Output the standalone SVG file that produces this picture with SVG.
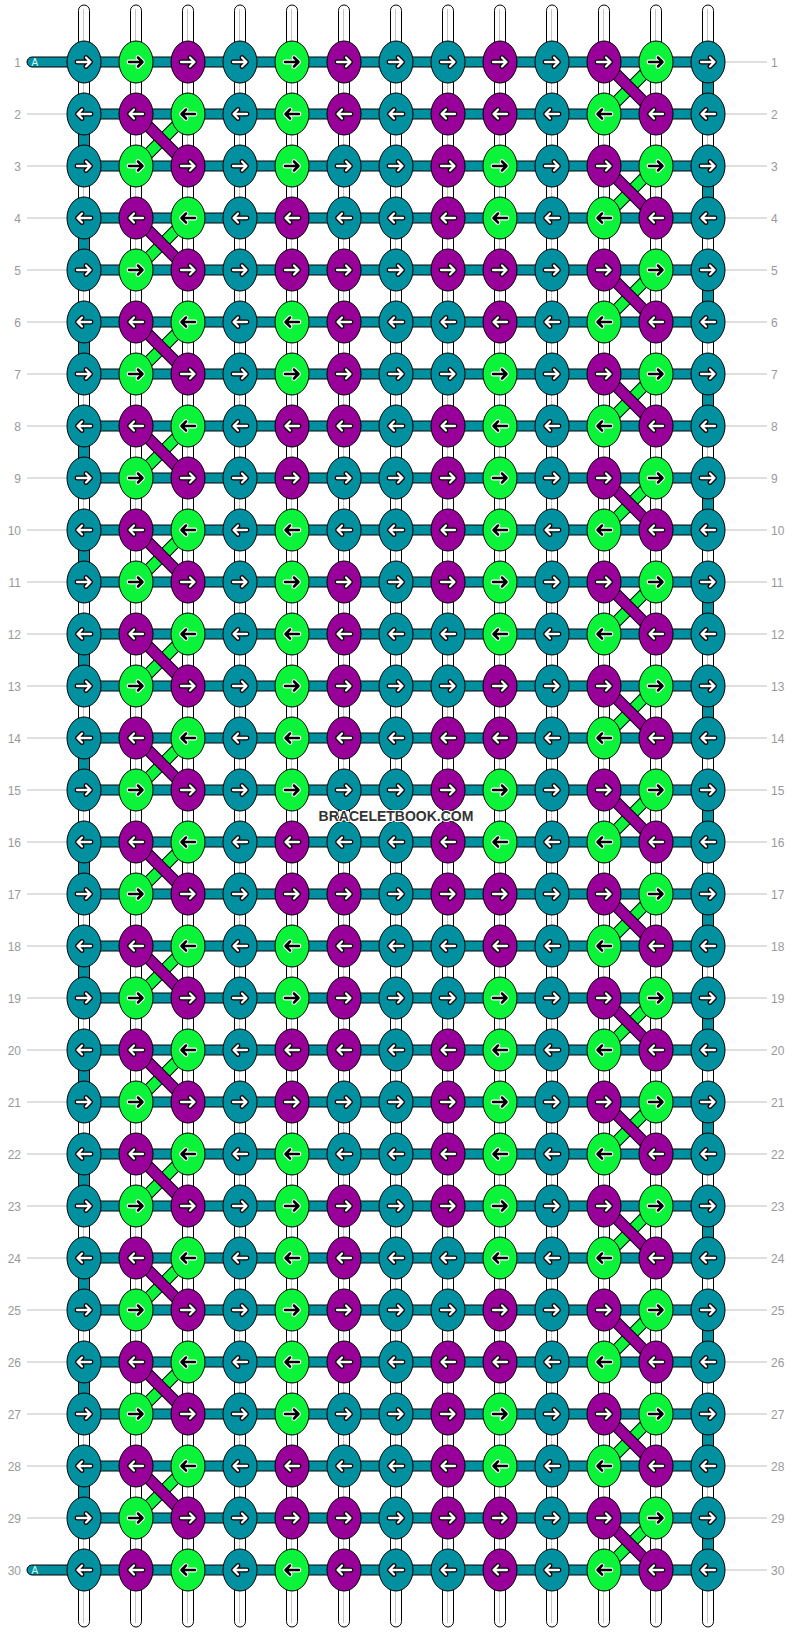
<svg xmlns="http://www.w3.org/2000/svg" xmlns:xlink="http://www.w3.org/1999/xlink" width="792" height="1632" viewBox="0 0 792 1632">
<style>
.kt{fill:#00909F;stroke:#000;stroke-width:1}
.km{fill:#990099;stroke:#000;stroke-width:1}
.kg{fill:#0BF43A;stroke:#000;stroke-width:1}
.ao{fill:none;stroke:#000;stroke-width:4.8;stroke-linecap:round;stroke-linejoin:round}
.ai{fill:none;stroke:#fff;stroke-width:2.3;stroke-linecap:round;stroke-linejoin:round}
.aow{fill:none;stroke:#fff;stroke-width:4.8;stroke-linecap:round;stroke-linejoin:round}
.aib{fill:none;stroke:#000;stroke-width:2.5;stroke-linecap:round;stroke-linejoin:round}
.s{fill:#fff;stroke:#000;stroke-width:1}
.sl{fill:none;stroke:#c4c4c4;stroke-width:1}
.te{fill:#00909F;stroke:#000;stroke-width:1}
.do{fill:none;stroke:#000;stroke-width:12}
.dg{fill:none;stroke:#0BF43A;stroke-width:10}
.dm{fill:none;stroke:#990099;stroke-width:10}
.gl{fill:none;stroke:#c0c0c0;stroke-width:1}
.lb{font-family:"Liberation Sans",Arial,sans-serif;font-size:12px;fill:#999}
.wm{font-family:"Liberation Sans",Arial,sans-serif;font-size:14px;font-weight:bold;fill:#333;stroke:#fff;stroke-width:2;paint-order:stroke;text-anchor:middle}
.al{font-family:"Liberation Sans",Arial,sans-serif;font-size:10px;fill:#dff}
</style>
<defs>
<path id="ar" d="M-7 0H6M2-4.5L6.5 0 2 4.5"/>
<path id="al" d="M7 0H-6M-2-4.5L-6.5 0-2 4.5"/>
<g id="tR"><ellipse class="kt" rx="17" ry="21"/><use href="#ar" class="ao"/><use href="#ar" class="ai"/></g>
<g id="mR"><ellipse class="km" rx="17" ry="21"/><use href="#ar" class="ao"/><use href="#ar" class="ai"/></g>
<g id="gR"><ellipse class="kg" rx="17" ry="21"/><use href="#ar" class="aow"/><use href="#ar" class="aib"/></g>
<g id="tL"><ellipse class="kt" rx="17" ry="21"/><use href="#al" class="ao"/><use href="#al" class="ai"/></g>
<g id="mL"><ellipse class="km" rx="17" ry="21"/><use href="#al" class="ao"/><use href="#al" class="ai"/></g>
<g id="gL"><ellipse class="kg" rx="17" ry="21"/><use href="#al" class="aow"/><use href="#al" class="aib"/></g>
<path id="dgp" d="M136 166l52-52M136 270l52-52M136 374l52-52M136 478l52-52M136 582l52-52M136 686l52-52M136 790l52-52M136 894l52-52M136 998l52-52M136 1102l52-52M136 1206l52-52M136 1310l52-52M136 1414l52-52M136 1518l52-52M604 114l52-52M604 218l52-52M604 322l52-52M604 426l52-52M604 530l52-52M604 634l52-52M604 738l52-52M604 842l52-52M604 946l52-52M604 1050l52-52M604 1154l52-52M604 1258l52-52M604 1362l52-52M604 1466l52-52M604 1570l52-52"/>
<path id="dmp" d="M136 114l52 52M136 218l52 52M136 322l52 52M136 426l52 52M136 530l52 52M136 634l52 52M136 738l52 52M136 842l52 52M136 946l52 52M136 1050l52 52M136 1154l52 52M136 1258l52 52M136 1362l52 52M136 1466l52 52M604 62l52 52M604 166l52 52M604 270l52 52M604 374l52 52M604 478l52 52M604 582l52 52M604 686l52 52M604 790l52 52M604 894l52 52M604 998l52 52M604 1102l52 52M604 1206l52 52M604 1310l52 52M604 1414l52 52M604 1518l52 52"/>
</defs>
<rect width="792" height="1632" fill="#fff"/>
<g id="labels">
<path class="gl" d="M27 114H67M27 166H67M27 218H67M27 270H67M27 322H67M27 374H67M27 426H67M27 478H67M27 530H67M27 582H67M27 634H67M27 686H67M27 738H67M27 790H67M27 842H67M27 894H67M27 946H67M27 998H67M27 1050H67M27 1102H67M27 1154H67M27 1206H67M27 1258H67M27 1310H67M27 1362H67M27 1414H67M27 1466H67M27 1518H67M725 62H767M725 114H767M725 166H767M725 218H767M725 270H767M725 322H767M725 374H767M725 426H767M725 478H767M725 530H767M725 582H767M725 634H767M725 686H767M725 738H767M725 790H767M725 842H767M725 894H767M725 946H767M725 998H767M725 1050H767M725 1102H767M725 1154H767M725 1206H767M725 1258H767M725 1310H767M725 1362H767M725 1414H767M725 1466H767M725 1518H767M725 1570H767"/>
<g class="lb" text-anchor="end">
<text x="21" y="66.5">1</text><text x="21" y="118.5">2</text><text x="21" y="170.5">3</text><text x="21" y="222.5">4</text><text x="21" y="274.5">5</text><text x="21" y="326.5">6</text><text x="21" y="378.5">7</text><text x="21" y="430.5">8</text><text x="21" y="482.5">9</text><text x="21" y="534.5">10</text><text x="21" y="586.5">11</text><text x="21" y="638.5">12</text><text x="21" y="690.5">13</text><text x="21" y="742.5">14</text><text x="21" y="794.5">15</text><text x="21" y="846.5">16</text><text x="21" y="898.5">17</text><text x="21" y="950.5">18</text><text x="21" y="1002.5">19</text><text x="21" y="1054.5">20</text><text x="21" y="1106.5">21</text><text x="21" y="1158.5">22</text><text x="21" y="1210.5">23</text><text x="21" y="1262.5">24</text><text x="21" y="1314.5">25</text><text x="21" y="1366.5">26</text><text x="21" y="1418.5">27</text><text x="21" y="1470.5">28</text><text x="21" y="1522.5">29</text><text x="21" y="1574.5">30</text>
</g>
<g class="lb" text-anchor="start">
<text x="771" y="66.5">1</text><text x="771" y="118.5">2</text><text x="771" y="170.5">3</text><text x="771" y="222.5">4</text><text x="771" y="274.5">5</text><text x="771" y="326.5">6</text><text x="771" y="378.5">7</text><text x="771" y="430.5">8</text><text x="771" y="482.5">9</text><text x="771" y="534.5">10</text><text x="771" y="586.5">11</text><text x="771" y="638.5">12</text><text x="771" y="690.5">13</text><text x="771" y="742.5">14</text><text x="771" y="794.5">15</text><text x="771" y="846.5">16</text><text x="771" y="898.5">17</text><text x="771" y="950.5">18</text><text x="771" y="1002.5">19</text><text x="771" y="1054.5">20</text><text x="771" y="1106.5">21</text><text x="771" y="1158.5">22</text><text x="771" y="1210.5">23</text><text x="771" y="1262.5">24</text><text x="771" y="1314.5">25</text><text x="771" y="1366.5">26</text><text x="771" y="1418.5">27</text><text x="771" y="1470.5">28</text><text x="771" y="1522.5">29</text><text x="771" y="1574.5">30</text>
</g>
</g>
<g id="connectors">
<g id="strings">
<rect class="s" x="78.5" y="5" width="11" height="1622" rx="5.5"/>
<rect class="s" x="130.5" y="5" width="11" height="1622" rx="5.5"/>
<rect class="s" x="182.5" y="5" width="11" height="1622" rx="5.5"/>
<rect class="s" x="234.5" y="5" width="11" height="1622" rx="5.5"/>
<rect class="s" x="286.5" y="5" width="11" height="1622" rx="5.5"/>
<rect class="s" x="338.5" y="5" width="11" height="1622" rx="5.5"/>
<rect class="s" x="390.5" y="5" width="11" height="1622" rx="5.5"/>
<rect class="s" x="442.5" y="5" width="11" height="1622" rx="5.5"/>
<rect class="s" x="494.5" y="5" width="11" height="1622" rx="5.5"/>
<rect class="s" x="546.5" y="5" width="11" height="1622" rx="5.5"/>
<rect class="s" x="598.5" y="5" width="11" height="1622" rx="5.5"/>
<rect class="s" x="650.5" y="5" width="11" height="1622" rx="5.5"/>
<rect class="s" x="702.5" y="5" width="11" height="1622" rx="5.5"/>
<path class="sl" d="M83.5 9V1623M135.5 9V1623M187.5 9V1623M239.5 9V1623M291.5 9V1623M343.5 9V1623M395.5 9V1623M447.5 9V1623M499.5 9V1623M551.5 9V1623M603.5 9V1623M655.5 9V1623M707.5 9V1623"/>
</g>
<path id="edges" class="te" d="M78.5 114h11v52h-11zM78.5 218h11v52h-11zM78.5 322h11v52h-11zM78.5 426h11v52h-11zM78.5 530h11v52h-11zM78.5 634h11v52h-11zM78.5 738h11v52h-11zM78.5 842h11v52h-11zM78.5 946h11v52h-11zM78.5 1050h11v52h-11zM78.5 1154h11v52h-11zM78.5 1258h11v52h-11zM78.5 1362h11v52h-11zM78.5 1466h11v52h-11zM702.5 62h11v52h-11zM702.5 166h11v52h-11zM702.5 270h11v52h-11zM702.5 374h11v52h-11zM702.5 478h11v52h-11zM702.5 582h11v52h-11zM702.5 686h11v52h-11zM702.5 790h11v52h-11zM702.5 894h11v52h-11zM702.5 998h11v52h-11zM702.5 1102h11v52h-11zM702.5 1206h11v52h-11zM702.5 1310h11v52h-11zM702.5 1414h11v52h-11zM702.5 1518h11v52h-11z"/>
<path id="rows" class="te" d="M84 57h624v10h-624zM84 109h624v10h-624zM84 161h624v10h-624zM84 213h624v10h-624zM84 265h624v10h-624zM84 317h624v10h-624zM84 369h624v10h-624zM84 421h624v10h-624zM84 473h624v10h-624zM84 525h624v10h-624zM84 577h624v10h-624zM84 629h624v10h-624zM84 681h624v10h-624zM84 733h624v10h-624zM84 785h624v10h-624zM84 837h624v10h-624zM84 889h624v10h-624zM84 941h624v10h-624zM84 993h624v10h-624zM84 1045h624v10h-624zM84 1097h624v10h-624zM84 1149h624v10h-624zM84 1201h624v10h-624zM84 1253h624v10h-624zM84 1305h624v10h-624zM84 1357h624v10h-624zM84 1409h624v10h-624zM84 1461h624v10h-624zM84 1513h624v10h-624zM84 1565h624v10h-624z"/>
<rect class="te" x="27" y="57" width="62" height="10" rx="5"/>
<rect class="te" x="27" y="1565" width="62" height="10" rx="5"/>
<text class="al" x="31.5" y="65.5">A</text>
<text class="al" x="31.5" y="1573.5">A</text>
<g id="diagonals">
<use href="#dgp" class="do"/><use href="#dgp" class="dg"/>
<use href="#dmp" class="do"/><use href="#dmp" class="dm"/>
</g>
</g>
<g id="knots">
<g id="n1-1"><use href="#tR" x="84" y="62"/></g><g id="n1-2"><use href="#gR" x="136" y="62"/></g><g id="n1-3"><use href="#mR" x="188" y="62"/></g><g id="n1-4"><use href="#tR" x="240" y="62"/></g><g id="n1-5"><use href="#gR" x="292" y="62"/></g><g id="n1-6"><use href="#mR" x="344" y="62"/></g><g id="n1-7"><use href="#tR" x="396" y="62"/></g><g id="n1-8"><use href="#tR" x="448" y="62"/></g><g id="n1-9"><use href="#mR" x="500" y="62"/></g><g id="n1-10"><use href="#tR" x="552" y="62"/></g><g id="n1-11"><use href="#mR" x="604" y="62"/></g><g id="n1-12"><use href="#gR" x="656" y="62"/></g><g id="n1-13"><use href="#tR" x="708" y="62"/></g>
<g id="n2-1"><use href="#tL" x="84" y="114"/></g><g id="n2-2"><use href="#mL" x="136" y="114"/></g><g id="n2-3"><use href="#gL" x="188" y="114"/></g><g id="n2-4"><use href="#tL" x="240" y="114"/></g><g id="n2-5"><use href="#gL" x="292" y="114"/></g><g id="n2-6"><use href="#mL" x="344" y="114"/></g><g id="n2-7"><use href="#tL" x="396" y="114"/></g><g id="n2-8"><use href="#mL" x="448" y="114"/></g><g id="n2-9"><use href="#mL" x="500" y="114"/></g><g id="n2-10"><use href="#tL" x="552" y="114"/></g><g id="n2-11"><use href="#gL" x="604" y="114"/></g><g id="n2-12"><use href="#mL" x="656" y="114"/></g><g id="n2-13"><use href="#tL" x="708" y="114"/></g>
<g id="n3-1"><use href="#tR" x="84" y="166"/></g><g id="n3-2"><use href="#gR" x="136" y="166"/></g><g id="n3-3"><use href="#mR" x="188" y="166"/></g><g id="n3-4"><use href="#tR" x="240" y="166"/></g><g id="n3-5"><use href="#gR" x="292" y="166"/></g><g id="n3-6"><use href="#tR" x="344" y="166"/></g><g id="n3-7"><use href="#tR" x="396" y="166"/></g><g id="n3-8"><use href="#mR" x="448" y="166"/></g><g id="n3-9"><use href="#gR" x="500" y="166"/></g><g id="n3-10"><use href="#tR" x="552" y="166"/></g><g id="n3-11"><use href="#mR" x="604" y="166"/></g><g id="n3-12"><use href="#gR" x="656" y="166"/></g><g id="n3-13"><use href="#tR" x="708" y="166"/></g>
<g id="n4-1"><use href="#tL" x="84" y="218"/></g><g id="n4-2"><use href="#mL" x="136" y="218"/></g><g id="n4-3"><use href="#gL" x="188" y="218"/></g><g id="n4-4"><use href="#tL" x="240" y="218"/></g><g id="n4-5"><use href="#mL" x="292" y="218"/></g><g id="n4-6"><use href="#tL" x="344" y="218"/></g><g id="n4-7"><use href="#tL" x="396" y="218"/></g><g id="n4-8"><use href="#mL" x="448" y="218"/></g><g id="n4-9"><use href="#gL" x="500" y="218"/></g><g id="n4-10"><use href="#tL" x="552" y="218"/></g><g id="n4-11"><use href="#gL" x="604" y="218"/></g><g id="n4-12"><use href="#mL" x="656" y="218"/></g><g id="n4-13"><use href="#tL" x="708" y="218"/></g>
<g id="n5-1"><use href="#tR" x="84" y="270"/></g><g id="n5-2"><use href="#gR" x="136" y="270"/></g><g id="n5-3"><use href="#mR" x="188" y="270"/></g><g id="n5-4"><use href="#tR" x="240" y="270"/></g><g id="n5-5"><use href="#mR" x="292" y="270"/></g><g id="n5-6"><use href="#mR" x="344" y="270"/></g><g id="n5-7"><use href="#tR" x="396" y="270"/></g><g id="n5-8"><use href="#mR" x="448" y="270"/></g><g id="n5-9"><use href="#mR" x="500" y="270"/></g><g id="n5-10"><use href="#tR" x="552" y="270"/></g><g id="n5-11"><use href="#mR" x="604" y="270"/></g><g id="n5-12"><use href="#gR" x="656" y="270"/></g><g id="n5-13"><use href="#tR" x="708" y="270"/></g>
<g id="n6-1"><use href="#tL" x="84" y="322"/></g><g id="n6-2"><use href="#mL" x="136" y="322"/></g><g id="n6-3"><use href="#gL" x="188" y="322"/></g><g id="n6-4"><use href="#tL" x="240" y="322"/></g><g id="n6-5"><use href="#gL" x="292" y="322"/></g><g id="n6-6"><use href="#mL" x="344" y="322"/></g><g id="n6-7"><use href="#tL" x="396" y="322"/></g><g id="n6-8"><use href="#tL" x="448" y="322"/></g><g id="n6-9"><use href="#mL" x="500" y="322"/></g><g id="n6-10"><use href="#tL" x="552" y="322"/></g><g id="n6-11"><use href="#gL" x="604" y="322"/></g><g id="n6-12"><use href="#mL" x="656" y="322"/></g><g id="n6-13"><use href="#tL" x="708" y="322"/></g>
<g id="n7-1"><use href="#tR" x="84" y="374"/></g><g id="n7-2"><use href="#gR" x="136" y="374"/></g><g id="n7-3"><use href="#mR" x="188" y="374"/></g><g id="n7-4"><use href="#tR" x="240" y="374"/></g><g id="n7-5"><use href="#gR" x="292" y="374"/></g><g id="n7-6"><use href="#mR" x="344" y="374"/></g><g id="n7-7"><use href="#tR" x="396" y="374"/></g><g id="n7-8"><use href="#tR" x="448" y="374"/></g><g id="n7-9"><use href="#gR" x="500" y="374"/></g><g id="n7-10"><use href="#tR" x="552" y="374"/></g><g id="n7-11"><use href="#mR" x="604" y="374"/></g><g id="n7-12"><use href="#gR" x="656" y="374"/></g><g id="n7-13"><use href="#tR" x="708" y="374"/></g>
<g id="n8-1"><use href="#tL" x="84" y="426"/></g><g id="n8-2"><use href="#mL" x="136" y="426"/></g><g id="n8-3"><use href="#gL" x="188" y="426"/></g><g id="n8-4"><use href="#tL" x="240" y="426"/></g><g id="n8-5"><use href="#mL" x="292" y="426"/></g><g id="n8-6"><use href="#mL" x="344" y="426"/></g><g id="n8-7"><use href="#tL" x="396" y="426"/></g><g id="n8-8"><use href="#mL" x="448" y="426"/></g><g id="n8-9"><use href="#gL" x="500" y="426"/></g><g id="n8-10"><use href="#tL" x="552" y="426"/></g><g id="n8-11"><use href="#gL" x="604" y="426"/></g><g id="n8-12"><use href="#mL" x="656" y="426"/></g><g id="n8-13"><use href="#tL" x="708" y="426"/></g>
<g id="n9-1"><use href="#tR" x="84" y="478"/></g><g id="n9-2"><use href="#gR" x="136" y="478"/></g><g id="n9-3"><use href="#mR" x="188" y="478"/></g><g id="n9-4"><use href="#tR" x="240" y="478"/></g><g id="n9-5"><use href="#mR" x="292" y="478"/></g><g id="n9-6"><use href="#tR" x="344" y="478"/></g><g id="n9-7"><use href="#tR" x="396" y="478"/></g><g id="n9-8"><use href="#mR" x="448" y="478"/></g><g id="n9-9"><use href="#gR" x="500" y="478"/></g><g id="n9-10"><use href="#tR" x="552" y="478"/></g><g id="n9-11"><use href="#mR" x="604" y="478"/></g><g id="n9-12"><use href="#gR" x="656" y="478"/></g><g id="n9-13"><use href="#tR" x="708" y="478"/></g>
<g id="n10-1"><use href="#tL" x="84" y="530"/></g><g id="n10-2"><use href="#mL" x="136" y="530"/></g><g id="n10-3"><use href="#gL" x="188" y="530"/></g><g id="n10-4"><use href="#tL" x="240" y="530"/></g><g id="n10-5"><use href="#gL" x="292" y="530"/></g><g id="n10-6"><use href="#tL" x="344" y="530"/></g><g id="n10-7"><use href="#tL" x="396" y="530"/></g><g id="n10-8"><use href="#mL" x="448" y="530"/></g><g id="n10-9"><use href="#gL" x="500" y="530"/></g><g id="n10-10"><use href="#tL" x="552" y="530"/></g><g id="n10-11"><use href="#gL" x="604" y="530"/></g><g id="n10-12"><use href="#mL" x="656" y="530"/></g><g id="n10-13"><use href="#tL" x="708" y="530"/></g>
<g id="n11-1"><use href="#tR" x="84" y="582"/></g><g id="n11-2"><use href="#gR" x="136" y="582"/></g><g id="n11-3"><use href="#mR" x="188" y="582"/></g><g id="n11-4"><use href="#tR" x="240" y="582"/></g><g id="n11-5"><use href="#gR" x="292" y="582"/></g><g id="n11-6"><use href="#mR" x="344" y="582"/></g><g id="n11-7"><use href="#tR" x="396" y="582"/></g><g id="n11-8"><use href="#mR" x="448" y="582"/></g><g id="n11-9"><use href="#gR" x="500" y="582"/></g><g id="n11-10"><use href="#tR" x="552" y="582"/></g><g id="n11-11"><use href="#mR" x="604" y="582"/></g><g id="n11-12"><use href="#gR" x="656" y="582"/></g><g id="n11-13"><use href="#tR" x="708" y="582"/></g>
<g id="n12-1"><use href="#tL" x="84" y="634"/></g><g id="n12-2"><use href="#mL" x="136" y="634"/></g><g id="n12-3"><use href="#gL" x="188" y="634"/></g><g id="n12-4"><use href="#tL" x="240" y="634"/></g><g id="n12-5"><use href="#gL" x="292" y="634"/></g><g id="n12-6"><use href="#mL" x="344" y="634"/></g><g id="n12-7"><use href="#tL" x="396" y="634"/></g><g id="n12-8"><use href="#tL" x="448" y="634"/></g><g id="n12-9"><use href="#gL" x="500" y="634"/></g><g id="n12-10"><use href="#tL" x="552" y="634"/></g><g id="n12-11"><use href="#gL" x="604" y="634"/></g><g id="n12-12"><use href="#mL" x="656" y="634"/></g><g id="n12-13"><use href="#tL" x="708" y="634"/></g>
<g id="n13-1"><use href="#tR" x="84" y="686"/></g><g id="n13-2"><use href="#gR" x="136" y="686"/></g><g id="n13-3"><use href="#mR" x="188" y="686"/></g><g id="n13-4"><use href="#tR" x="240" y="686"/></g><g id="n13-5"><use href="#gR" x="292" y="686"/></g><g id="n13-6"><use href="#mR" x="344" y="686"/></g><g id="n13-7"><use href="#tR" x="396" y="686"/></g><g id="n13-8"><use href="#tR" x="448" y="686"/></g><g id="n13-9"><use href="#mR" x="500" y="686"/></g><g id="n13-10"><use href="#tR" x="552" y="686"/></g><g id="n13-11"><use href="#mR" x="604" y="686"/></g><g id="n13-12"><use href="#gR" x="656" y="686"/></g><g id="n13-13"><use href="#tR" x="708" y="686"/></g>
<g id="n14-1"><use href="#tL" x="84" y="738"/></g><g id="n14-2"><use href="#mL" x="136" y="738"/></g><g id="n14-3"><use href="#gL" x="188" y="738"/></g><g id="n14-4"><use href="#tL" x="240" y="738"/></g><g id="n14-5"><use href="#gL" x="292" y="738"/></g><g id="n14-6"><use href="#mL" x="344" y="738"/></g><g id="n14-7"><use href="#tL" x="396" y="738"/></g><g id="n14-8"><use href="#mL" x="448" y="738"/></g><g id="n14-9"><use href="#mL" x="500" y="738"/></g><g id="n14-10"><use href="#tL" x="552" y="738"/></g><g id="n14-11"><use href="#gL" x="604" y="738"/></g><g id="n14-12"><use href="#mL" x="656" y="738"/></g><g id="n14-13"><use href="#tL" x="708" y="738"/></g>
<g id="n15-1"><use href="#tR" x="84" y="790"/></g><g id="n15-2"><use href="#gR" x="136" y="790"/></g><g id="n15-3"><use href="#mR" x="188" y="790"/></g><g id="n15-4"><use href="#tR" x="240" y="790"/></g><g id="n15-5"><use href="#gR" x="292" y="790"/></g><g id="n15-6"><use href="#tR" x="344" y="790"/></g><g id="n15-7"><use href="#tR" x="396" y="790"/></g><g id="n15-8"><use href="#mR" x="448" y="790"/></g><g id="n15-9"><use href="#gR" x="500" y="790"/></g><g id="n15-10"><use href="#tR" x="552" y="790"/></g><g id="n15-11"><use href="#mR" x="604" y="790"/></g><g id="n15-12"><use href="#gR" x="656" y="790"/></g><g id="n15-13"><use href="#tR" x="708" y="790"/></g>
<g id="n16-1"><use href="#tL" x="84" y="842"/></g><g id="n16-2"><use href="#mL" x="136" y="842"/></g><g id="n16-3"><use href="#gL" x="188" y="842"/></g><g id="n16-4"><use href="#tL" x="240" y="842"/></g><g id="n16-5"><use href="#mL" x="292" y="842"/></g><g id="n16-6"><use href="#tL" x="344" y="842"/></g><g id="n16-7"><use href="#tL" x="396" y="842"/></g><g id="n16-8"><use href="#mL" x="448" y="842"/></g><g id="n16-9"><use href="#gL" x="500" y="842"/></g><g id="n16-10"><use href="#tL" x="552" y="842"/></g><g id="n16-11"><use href="#gL" x="604" y="842"/></g><g id="n16-12"><use href="#mL" x="656" y="842"/></g><g id="n16-13"><use href="#tL" x="708" y="842"/></g>
<g id="n17-1"><use href="#tR" x="84" y="894"/></g><g id="n17-2"><use href="#gR" x="136" y="894"/></g><g id="n17-3"><use href="#mR" x="188" y="894"/></g><g id="n17-4"><use href="#tR" x="240" y="894"/></g><g id="n17-5"><use href="#mR" x="292" y="894"/></g><g id="n17-6"><use href="#mR" x="344" y="894"/></g><g id="n17-7"><use href="#tR" x="396" y="894"/></g><g id="n17-8"><use href="#mR" x="448" y="894"/></g><g id="n17-9"><use href="#mR" x="500" y="894"/></g><g id="n17-10"><use href="#tR" x="552" y="894"/></g><g id="n17-11"><use href="#mR" x="604" y="894"/></g><g id="n17-12"><use href="#gR" x="656" y="894"/></g><g id="n17-13"><use href="#tR" x="708" y="894"/></g>
<g id="n18-1"><use href="#tL" x="84" y="946"/></g><g id="n18-2"><use href="#mL" x="136" y="946"/></g><g id="n18-3"><use href="#gL" x="188" y="946"/></g><g id="n18-4"><use href="#tL" x="240" y="946"/></g><g id="n18-5"><use href="#gL" x="292" y="946"/></g><g id="n18-6"><use href="#mL" x="344" y="946"/></g><g id="n18-7"><use href="#tL" x="396" y="946"/></g><g id="n18-8"><use href="#tL" x="448" y="946"/></g><g id="n18-9"><use href="#mL" x="500" y="946"/></g><g id="n18-10"><use href="#tL" x="552" y="946"/></g><g id="n18-11"><use href="#gL" x="604" y="946"/></g><g id="n18-12"><use href="#mL" x="656" y="946"/></g><g id="n18-13"><use href="#tL" x="708" y="946"/></g>
<g id="n19-1"><use href="#tR" x="84" y="998"/></g><g id="n19-2"><use href="#gR" x="136" y="998"/></g><g id="n19-3"><use href="#mR" x="188" y="998"/></g><g id="n19-4"><use href="#tR" x="240" y="998"/></g><g id="n19-5"><use href="#gR" x="292" y="998"/></g><g id="n19-6"><use href="#mR" x="344" y="998"/></g><g id="n19-7"><use href="#tR" x="396" y="998"/></g><g id="n19-8"><use href="#tR" x="448" y="998"/></g><g id="n19-9"><use href="#gR" x="500" y="998"/></g><g id="n19-10"><use href="#tR" x="552" y="998"/></g><g id="n19-11"><use href="#mR" x="604" y="998"/></g><g id="n19-12"><use href="#gR" x="656" y="998"/></g><g id="n19-13"><use href="#tR" x="708" y="998"/></g>
<g id="n20-1"><use href="#tL" x="84" y="1050"/></g><g id="n20-2"><use href="#mL" x="136" y="1050"/></g><g id="n20-3"><use href="#gL" x="188" y="1050"/></g><g id="n20-4"><use href="#tL" x="240" y="1050"/></g><g id="n20-5"><use href="#mL" x="292" y="1050"/></g><g id="n20-6"><use href="#mL" x="344" y="1050"/></g><g id="n20-7"><use href="#tL" x="396" y="1050"/></g><g id="n20-8"><use href="#mL" x="448" y="1050"/></g><g id="n20-9"><use href="#gL" x="500" y="1050"/></g><g id="n20-10"><use href="#tL" x="552" y="1050"/></g><g id="n20-11"><use href="#gL" x="604" y="1050"/></g><g id="n20-12"><use href="#mL" x="656" y="1050"/></g><g id="n20-13"><use href="#tL" x="708" y="1050"/></g>
<g id="n21-1"><use href="#tR" x="84" y="1102"/></g><g id="n21-2"><use href="#gR" x="136" y="1102"/></g><g id="n21-3"><use href="#mR" x="188" y="1102"/></g><g id="n21-4"><use href="#tR" x="240" y="1102"/></g><g id="n21-5"><use href="#mR" x="292" y="1102"/></g><g id="n21-6"><use href="#tR" x="344" y="1102"/></g><g id="n21-7"><use href="#tR" x="396" y="1102"/></g><g id="n21-8"><use href="#mR" x="448" y="1102"/></g><g id="n21-9"><use href="#gR" x="500" y="1102"/></g><g id="n21-10"><use href="#tR" x="552" y="1102"/></g><g id="n21-11"><use href="#mR" x="604" y="1102"/></g><g id="n21-12"><use href="#gR" x="656" y="1102"/></g><g id="n21-13"><use href="#tR" x="708" y="1102"/></g>
<g id="n22-1"><use href="#tL" x="84" y="1154"/></g><g id="n22-2"><use href="#mL" x="136" y="1154"/></g><g id="n22-3"><use href="#gL" x="188" y="1154"/></g><g id="n22-4"><use href="#tL" x="240" y="1154"/></g><g id="n22-5"><use href="#gL" x="292" y="1154"/></g><g id="n22-6"><use href="#tL" x="344" y="1154"/></g><g id="n22-7"><use href="#tL" x="396" y="1154"/></g><g id="n22-8"><use href="#mL" x="448" y="1154"/></g><g id="n22-9"><use href="#gL" x="500" y="1154"/></g><g id="n22-10"><use href="#tL" x="552" y="1154"/></g><g id="n22-11"><use href="#gL" x="604" y="1154"/></g><g id="n22-12"><use href="#mL" x="656" y="1154"/></g><g id="n22-13"><use href="#tL" x="708" y="1154"/></g>
<g id="n23-1"><use href="#tR" x="84" y="1206"/></g><g id="n23-2"><use href="#gR" x="136" y="1206"/></g><g id="n23-3"><use href="#mR" x="188" y="1206"/></g><g id="n23-4"><use href="#tR" x="240" y="1206"/></g><g id="n23-5"><use href="#gR" x="292" y="1206"/></g><g id="n23-6"><use href="#mR" x="344" y="1206"/></g><g id="n23-7"><use href="#tR" x="396" y="1206"/></g><g id="n23-8"><use href="#mR" x="448" y="1206"/></g><g id="n23-9"><use href="#gR" x="500" y="1206"/></g><g id="n23-10"><use href="#tR" x="552" y="1206"/></g><g id="n23-11"><use href="#mR" x="604" y="1206"/></g><g id="n23-12"><use href="#gR" x="656" y="1206"/></g><g id="n23-13"><use href="#tR" x="708" y="1206"/></g>
<g id="n24-1"><use href="#tL" x="84" y="1258"/></g><g id="n24-2"><use href="#mL" x="136" y="1258"/></g><g id="n24-3"><use href="#gL" x="188" y="1258"/></g><g id="n24-4"><use href="#tL" x="240" y="1258"/></g><g id="n24-5"><use href="#gL" x="292" y="1258"/></g><g id="n24-6"><use href="#mL" x="344" y="1258"/></g><g id="n24-7"><use href="#tL" x="396" y="1258"/></g><g id="n24-8"><use href="#tL" x="448" y="1258"/></g><g id="n24-9"><use href="#gL" x="500" y="1258"/></g><g id="n24-10"><use href="#tL" x="552" y="1258"/></g><g id="n24-11"><use href="#gL" x="604" y="1258"/></g><g id="n24-12"><use href="#mL" x="656" y="1258"/></g><g id="n24-13"><use href="#tL" x="708" y="1258"/></g>
<g id="n25-1"><use href="#tR" x="84" y="1310"/></g><g id="n25-2"><use href="#gR" x="136" y="1310"/></g><g id="n25-3"><use href="#mR" x="188" y="1310"/></g><g id="n25-4"><use href="#tR" x="240" y="1310"/></g><g id="n25-5"><use href="#gR" x="292" y="1310"/></g><g id="n25-6"><use href="#mR" x="344" y="1310"/></g><g id="n25-7"><use href="#tR" x="396" y="1310"/></g><g id="n25-8"><use href="#tR" x="448" y="1310"/></g><g id="n25-9"><use href="#mR" x="500" y="1310"/></g><g id="n25-10"><use href="#tR" x="552" y="1310"/></g><g id="n25-11"><use href="#mR" x="604" y="1310"/></g><g id="n25-12"><use href="#gR" x="656" y="1310"/></g><g id="n25-13"><use href="#tR" x="708" y="1310"/></g>
<g id="n26-1"><use href="#tL" x="84" y="1362"/></g><g id="n26-2"><use href="#mL" x="136" y="1362"/></g><g id="n26-3"><use href="#gL" x="188" y="1362"/></g><g id="n26-4"><use href="#tL" x="240" y="1362"/></g><g id="n26-5"><use href="#gL" x="292" y="1362"/></g><g id="n26-6"><use href="#mL" x="344" y="1362"/></g><g id="n26-7"><use href="#tL" x="396" y="1362"/></g><g id="n26-8"><use href="#mL" x="448" y="1362"/></g><g id="n26-9"><use href="#mL" x="500" y="1362"/></g><g id="n26-10"><use href="#tL" x="552" y="1362"/></g><g id="n26-11"><use href="#gL" x="604" y="1362"/></g><g id="n26-12"><use href="#mL" x="656" y="1362"/></g><g id="n26-13"><use href="#tL" x="708" y="1362"/></g>
<g id="n27-1"><use href="#tR" x="84" y="1414"/></g><g id="n27-2"><use href="#gR" x="136" y="1414"/></g><g id="n27-3"><use href="#mR" x="188" y="1414"/></g><g id="n27-4"><use href="#tR" x="240" y="1414"/></g><g id="n27-5"><use href="#gR" x="292" y="1414"/></g><g id="n27-6"><use href="#tR" x="344" y="1414"/></g><g id="n27-7"><use href="#tR" x="396" y="1414"/></g><g id="n27-8"><use href="#mR" x="448" y="1414"/></g><g id="n27-9"><use href="#gR" x="500" y="1414"/></g><g id="n27-10"><use href="#tR" x="552" y="1414"/></g><g id="n27-11"><use href="#mR" x="604" y="1414"/></g><g id="n27-12"><use href="#gR" x="656" y="1414"/></g><g id="n27-13"><use href="#tR" x="708" y="1414"/></g>
<g id="n28-1"><use href="#tL" x="84" y="1466"/></g><g id="n28-2"><use href="#mL" x="136" y="1466"/></g><g id="n28-3"><use href="#gL" x="188" y="1466"/></g><g id="n28-4"><use href="#tL" x="240" y="1466"/></g><g id="n28-5"><use href="#mL" x="292" y="1466"/></g><g id="n28-6"><use href="#tL" x="344" y="1466"/></g><g id="n28-7"><use href="#tL" x="396" y="1466"/></g><g id="n28-8"><use href="#mL" x="448" y="1466"/></g><g id="n28-9"><use href="#gL" x="500" y="1466"/></g><g id="n28-10"><use href="#tL" x="552" y="1466"/></g><g id="n28-11"><use href="#gL" x="604" y="1466"/></g><g id="n28-12"><use href="#mL" x="656" y="1466"/></g><g id="n28-13"><use href="#tL" x="708" y="1466"/></g>
<g id="n29-1"><use href="#tR" x="84" y="1518"/></g><g id="n29-2"><use href="#gR" x="136" y="1518"/></g><g id="n29-3"><use href="#mR" x="188" y="1518"/></g><g id="n29-4"><use href="#tR" x="240" y="1518"/></g><g id="n29-5"><use href="#mR" x="292" y="1518"/></g><g id="n29-6"><use href="#mR" x="344" y="1518"/></g><g id="n29-7"><use href="#tR" x="396" y="1518"/></g><g id="n29-8"><use href="#mR" x="448" y="1518"/></g><g id="n29-9"><use href="#mR" x="500" y="1518"/></g><g id="n29-10"><use href="#tR" x="552" y="1518"/></g><g id="n29-11"><use href="#mR" x="604" y="1518"/></g><g id="n29-12"><use href="#gR" x="656" y="1518"/></g><g id="n29-13"><use href="#tR" x="708" y="1518"/></g>
<g id="n30-1"><use href="#tL" x="84" y="1570"/></g><g id="n30-2"><use href="#mL" x="136" y="1570"/></g><g id="n30-3"><use href="#gL" x="188" y="1570"/></g><g id="n30-4"><use href="#tL" x="240" y="1570"/></g><g id="n30-5"><use href="#gL" x="292" y="1570"/></g><g id="n30-6"><use href="#mL" x="344" y="1570"/></g><g id="n30-7"><use href="#tL" x="396" y="1570"/></g><g id="n30-8"><use href="#tL" x="448" y="1570"/></g><g id="n30-9"><use href="#mL" x="500" y="1570"/></g><g id="n30-10"><use href="#tL" x="552" y="1570"/></g><g id="n30-11"><use href="#gL" x="604" y="1570"/></g><g id="n30-12"><use href="#mL" x="656" y="1570"/></g><g id="n30-13"><use href="#tL" x="708" y="1570"/></g>
</g>
<text class="wm" x="396" y="821">BRACELETBOOK.COM</text>
</svg>
